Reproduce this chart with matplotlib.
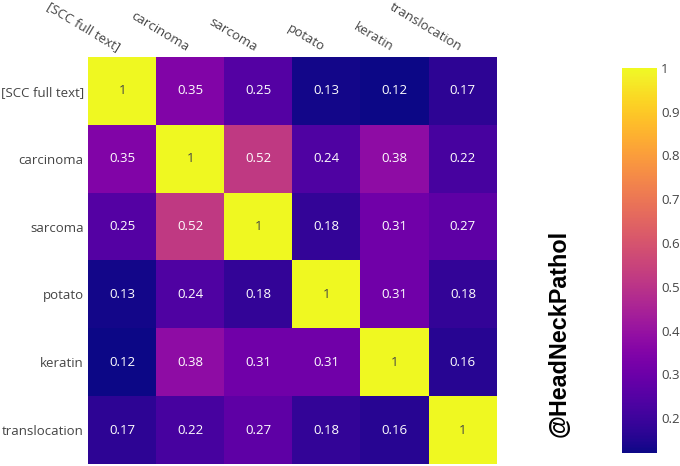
import numpy as np
import matplotlib
matplotlib.use("Agg")
import matplotlib.pyplot as plt
import matplotlib.transforms as mtransforms
from matplotlib.colors import Normalize

labels = ["[SCC full text]", "carcinoma", "sarcoma", "potato", "keratin", "translocation"]
scc_row = [1, 0.35, 0.25, 0.13, 0.12, 0.17]
carcinoma_row = [0.35, 1, 0.52, 0.24, 0.38, 0.22]
sarcoma_row = [0.25, 0.52, 1, 0.18, 0.31, 0.27]
potato_row = [0.13, 0.24, 0.18, 1, 0.31, 0.18]
keratin_row = [0.12, 0.38, 0.31, 0.31, 1, 0.16]
translocation_row = [0.17, 0.22, 0.27, 0.18, 0.16, 1]
cbar_ticks = [0.2, 0.3, 0.4, 0.5, 0.6, 0.7, 0.8, 0.9, 1]

plt.rcParams['font.family'] = ['Open Sans', 'DejaVu Sans']

W, H = 680, 466
fig = plt.figure(figsize=(W / 100, H / 100), dpi=100)


def px_axes(x0, y0, x1, y1):
    # pixel box (top-left origin) -> figure axes
    return fig.add_axes([x0 / W, 1 - y1 / H, (x1 - x0) / W, (y1 - y0) / H])


sim = np.array([scc_row, carcinoma_row, sarcoma_row, potato_row, keratin_row, translocation_row])
norm = Normalize(vmin=sim.min(), vmax=sim.max())

ax = px_axes(88, 57, 497, 464)
im = ax.imshow(sim, cmap="plasma", norm=norm, aspect="auto")
n = len(labels)
for i in range(n):
    for j in range(n):
        v = sim[i, j]
        txt = f"{v:g}"
        color = "#444444" if v > 0.8 else "white"
        ax.text(j, i, txt, ha="center", va="center", color=color, fontsize=9.5)

ax.set_yticks(range(n))
ax.set_yticklabels(labels, fontsize=9.5, color="#444444")
ax.xaxis.tick_top()
ax.set_xticks(range(n))
ax.set_xticklabels(labels, fontsize=9.5, color="#444444", rotation=-31,
                   ha="right", va="bottom", rotation_mode="anchor")
ax.tick_params(length=0, pad=3)
shift = mtransforms.ScaledTranslation(-6 / 100, -1 / 100, fig.dpi_scale_trans)
for lbl in ax.get_xticklabels():
    lbl.set_transform(lbl.get_transform() + shift)
for s in ax.spines.values():
    s.set_visible(False)

cax = px_axes(622, 68, 657, 453)
cb = fig.colorbar(im, cax=cax, ticks=cbar_ticks)
cb.outline.set_visible(False)
cb.ax.tick_params(length=0, labelsize=9.5, labelcolor="#444444", pad=3)
cb.ax.set_yticklabels([f"{t:g}" for t in cbar_ticks])

fig.text(559 / W, 1 - 333 / H, "@HeadNeckPathol", rotation=90, ha="center", va="center",
         fontsize=16.8, fontweight="bold", family="Liberation Sans", color="black")

fig.savefig("out.png", dpi=100)
